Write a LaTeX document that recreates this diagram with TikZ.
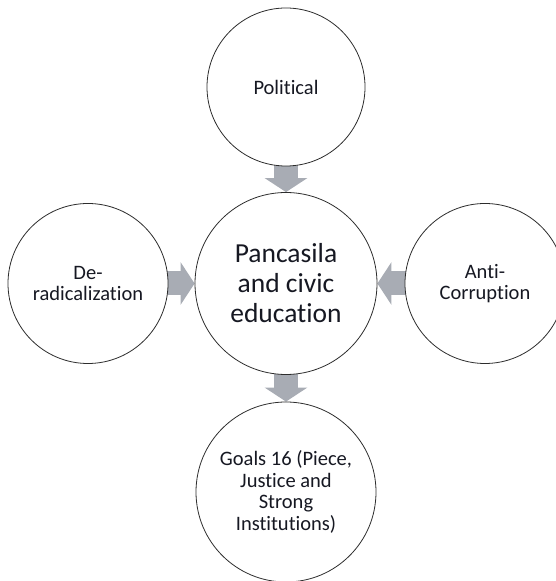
\documentclass[tikz,border=0pt]{standalone}
\usepackage{fontspec}
\setmainfont[Ligatures=NoCommon]{Carlito}
\usetikzlibrary{arrows.meta,backgrounds}

\definecolor{ringline}{RGB}{45,45,45}
\definecolor{flowgray}{RGB}{168,172,180}
\definecolor{labelink}{RGB}{22,24,34}

\tikzset{
  topic/.style={circle, draw=ringline, line width=0.8pt, fill=white,
    inner sep=0pt, align=center, text=labelink,
    font=\fontsize{20.5}{21.5}\selectfont},
  core/.style={topic, font=\fontsize{27.5}{30}\selectfont},
  flow/.style={draw=flowgray, line width=24pt,
    -{Triangle[width=42pt,length=14pt]}, shorten <=-4pt}
}

\begin{document}
\begin{tikzpicture}[x=1pt,y=1pt]
  \useasboundingbox (0,0) rectangle (555,581);

  % hub and the four surrounding themes
  \node[core, minimum size=182pt] (hub) at (286,297.5) {Pancasila\\and civic\\education};
  \node[topic, minimum size=158pt] (pol) at (286,494) {Political};
  \node[topic, minimum size=160pt] (derad) at (88,297.5) {De-\\radicalization};
  \node[topic, minimum size=160pt] (anti) at (485,297.5) {Anti-\\Corruption};
  \node[topic, minimum size=180pt] (sdg) at (286,89) {Goals 16 (Piece,\\Justice and\\Strong\\Institutions)};

  % block arrows, kept behind the circles
  \begin{scope}[on background layer]
    \draw[flow] (pol) -- (hub);
    \draw[flow] (derad) -- (hub);
    \draw[flow] (anti) -- (hub);
    \draw[flow] (hub) -- (sdg);
  \end{scope}
\end{tikzpicture}
\end{document}
